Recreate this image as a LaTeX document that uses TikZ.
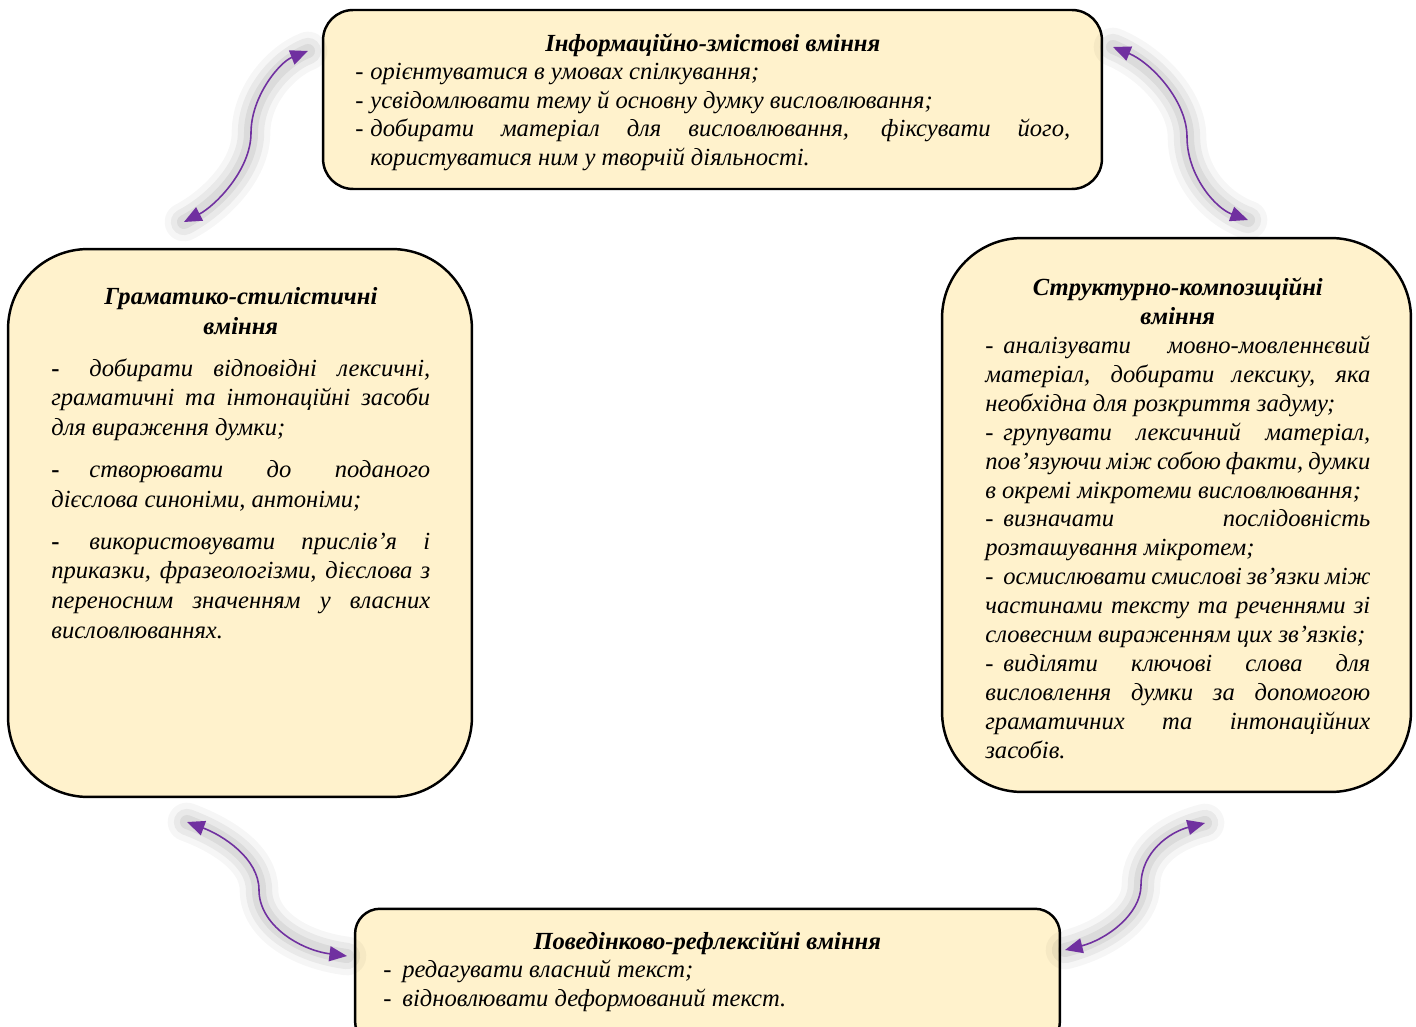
\documentclass[tikz,border=0pt]{standalone}
\usepackage{fontspec}
\setmainfont{Liberation Serif}
\usetikzlibrary{arrows.meta}

\definecolor{cream}{HTML}{FFF2CC}
\definecolor{linkviolet}{HTML}{7030A0}

\newcommand{\jline}[1]{\makebox[\hsize][s]{#1}\par}
\newcommand{\boxtitle}[1]{\makebox[\hsize][c]{\bfseries #1}\par}
\newcommand{\hy}[1][0.3cm]{\makebox[#1][l]{-}}
\newcommand{\bighy}{\makebox[0.76cm][l]{\upshape\bfseries -}}
\newcommand{\skillfont}[1]{\fontsize{14}{#1}\selectfont\setlength{\parindent}{0pt}%
  \spaceskip=0.25em plus 2em minus 0.05em\relax}

\tikzset{
  skillbox/.style={draw=black, line width=1.4pt, fill=cream, inner sep=0pt},
  skilltext/.style={anchor=north west, inner sep=0pt, align=left, font=\itshape},
  link/.style={draw=linkviolet, line width=0.9pt,
    {Triangle[length=10pt,width=8.5pt]}-{Triangle[length=10pt,width=8.5pt]},
    preaction={draw=black, line width=22pt, opacity=0.035, arrows=-, line cap=round},
    preaction={draw=black, line width=15pt, opacity=0.05, arrows=-, line cap=round},
    preaction={draw=black, line width=8pt, opacity=0.06, arrows=-, line cap=round}}
}

\begin{document}
\begin{tikzpicture}[x=0.02cm, y=-0.02cm]
\useasboundingbox (0,0) rectangle (1416,1027);
\clip (0,0) rectangle (1416,1027);
\fill[white] (0,0) rectangle (1416,1027);

% boxes
\node[skillbox, minimum width=15.58cm, minimum height=3.58cm, rounded corners=0.6cm] (info) at (712.5,99.5) {};
\node[skillbox, minimum width=9.28cm, minimum height=10.96cm, rounded corners=1.6cm] (gram) at (240,523) {};
\node[skillbox, minimum width=9.38cm, minimum height=11.08cm, rounded corners=1.6cm] (struct) at (1176.5,515) {};
\node[skillbox, minimum width=14.1cm, minimum height=2.75cm, rounded corners=0.5cm] (behav) at (707.5,977.5) {};

% texts
\node[skilltext, text width=14.3cm] (infotext) at (355,33) {\skillfont{16.3}%
\boxtitle{Інформаційно-змістові вміння}
\hy орієнтуватися в умовах спілкування;\par
\hy усвідомлювати тему й основну думку висловлювання;\par
\jline{\hy добирати матеріал для висловлювання, фіксувати його,}
\hspace*{0.3cm}користуватися ним у творчій діяльності.\par};

\node[skilltext, text width=7.58cm] (gramtext) at (51,287) {\skillfont{16.9}%
\boxtitle{Граматико-стилістичні}
\boxtitle{вміння}
\vspace{7pt}
\jline{\bighy добирати відповідні лексичні,}
\jline{граматичні та інтонаційні засоби}
для вираження думки;\par
\vspace{7pt}
\jline{\bighy створювати до поданого}
дієслова синоніми, антоніми;\par
\vspace{7pt}
\jline{\bighy використовувати прислів’я і}
\jline{приказки, фразеологізми, дієслова з}
\jline{переносним значенням у власних}
висловлюваннях.\par};

\node[skilltext, text width=7.7cm] (structtext) at (985,277) {\skillfont{16.5}%
\boxtitle{Структурно-композиційні}
\boxtitle{вміння}
\jline{\hy[0.36cm]аналізувати мовно-мовленнєвий}
\jline{матеріал, добирати лексику, яка}
необхідна для розкриття задуму;\par
\jline{\hy[0.36cm]групувати лексичний матеріал,}
\jline{пов’язуючи між собою факти, думки}
в окремі мікротеми висловлювання;\par
\jline{\hy[0.36cm]визначати послідовність}
розташування мікротем;\par
\jline{\hy[0.36cm]осмислювати смислові зв’язки між}
\jline{частинами тексту та реченнями зі}
словесним вираженням цих зв’язків;\par
\jline{\hy[0.36cm]виділяти ключові слова для}
\jline{висловлення думки за допомогою}
\jline{граматичних та інтонаційних}
засобів.\par};

\node[skilltext, text width=12.96cm] (behavtext) at (383,931) {\skillfont{16.4}%
\boxtitle{Поведінково-рефлексійні вміння}
\hy[0.38cm]редагувати власний текст;\par
\hy[0.38cm]відновлювати деформований текст.\par};

% arrow ends
\coordinate (tlA) at (184,222);
\coordinate (tlM) at (251,133);
\coordinate (tlB) at (308,51);
\coordinate (trA) at (1113,47);
\coordinate (trM) at (1187,137);
\coordinate (trB) at (1248,220);
\coordinate (blA) at (187,822);
\coordinate (blM) at (259,890);
\coordinate (blB) at (347,956);
\coordinate (brA) at (1065,950);
\coordinate (brM) at (1141,885);
\coordinate (brB) at (1205,823);

% arrows
\draw[link] (tlA) .. controls (215,206) and (251,170) .. (tlM) .. controls (251,96) and (280,62) .. (tlB);
\draw[link] (trA) .. controls (1150,62) and (1187,100) .. (trM) .. controls (1187,175) and (1215,208) .. (trB);
\draw[link] (blA) .. controls (222,835) and (259,858) .. (blM) .. controls (259,925) and (300,950) .. (blB);
\draw[link] (brA) .. controls (1105,940) and (1141,915) .. (brM) .. controls (1141,852) and (1170,832) .. (brB);
\end{tikzpicture}
\end{document}
